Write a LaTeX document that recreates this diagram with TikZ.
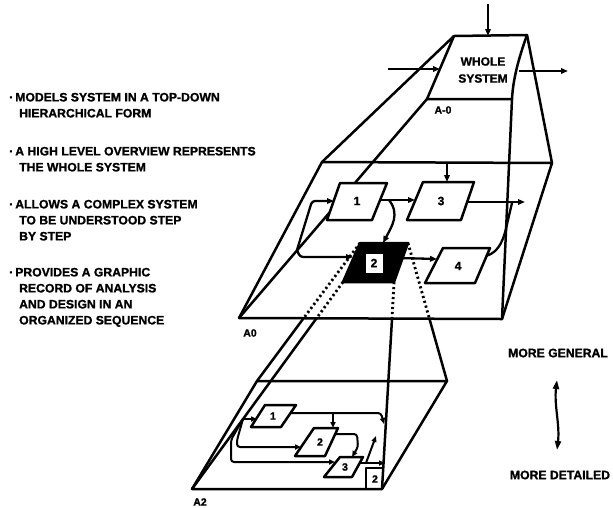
\documentclass[tikz,border=0pt]{standalone}
\usepackage{fontspec}
\setmainfont{Liberation Sans}[BoldFeatures={FakeBold=1.2}]
\usetikzlibrary{arrows.meta}
\begin{document}
\begin{tikzpicture}[x=1pt,y=-1pt,
  frame/.style={line width=2.5pt, line join=round, line cap=round},
  lnk/.style={line width=2.3pt, rounded corners=3pt, -{Triangle[length=7pt,width=5.5pt]}},
  slnk/.style={line width=2pt, rounded corners=3pt, -{Triangle[length=6pt,width=5pt]}},
  plain/.style={line width=2.3pt, rounded corners=3pt},
  dots/.style={line width=2.8pt, dash pattern=on 2.2pt off 2.8pt},
  lbl/.style={font=\bfseries\fontsize{12.2}{16}\selectfont, inner sep=0pt},
  txt/.style={lbl, anchor=base west},
  num/.style={font=\bfseries\fontsize{12}{12}\selectfont, inner sep=0pt},
  small/.style={font=\bfseries\fontsize{10.5}{10.5}\selectfont, inner sep=0pt}]
\useasboundingbox (0,0) rectangle (613,507);

% ---------- left text ----------
\node[txt] (l1) at (9,101.4) {·\,MODELS SYSTEM IN A TOP-DOWN};
\node[txt] (l2) at (19,117.4) {HIERARCHICAL FORM};
\node[txt] (l3) at (9,155.4) {·\,A HIGH LEVEL OVERVIEW REPRESENTS};
\node[txt] (l4) at (19,171.4) {THE WHOLE SYSTEM};
\node[txt] (l5) at (9,208.4) {·\,ALLOWS A COMPLEX SYSTEM};
\node[txt] (l6) at (19,224.4) {TO BE UNDERSTOOD STEP};
\node[txt] (l7) at (19,240.4) {BY STEP};
\node[txt] (l8) at (9,276.4) {·\,PROVIDES A GRAPHIC};
\node[txt] (l9) at (19,292.4) {RECORD OF ANALYSIS};
\node[txt] (l10) at (19,308.4) {AND DESIGN IN AN};
\node[txt] (l11) at (19,324.4) {ORGANIZED SEQUENCE};

% ---------- right legend ----------
\node[lbl] (gen) at (558,353) {MORE GENERAL};
\node[lbl] (det) at (560,475) {MORE DETAILED};
\coordinate (dA) at (557,380);
\coordinate (dB) at (557,450);
\draw[line width=2.2pt, {Triangle[length=9pt,width=6pt]}-{Triangle[length=9pt,width=6pt]}] (dA) .. controls (554,405) and (560,425) .. (dB);

% ---------- A-0 ----------
\coordinate (T1) at (454,36);
\coordinate (T2) at (527,35);
\coordinate (T3) at (512,99);
\coordinate (T4) at (427,99);
% ---------- A0 ----------
\coordinate (P1) at (322,162);
\coordinate (P2) at (552,163);
\coordinate (P3) at (502,319);
\coordinate (P4) at (239,318);
% frustum A-0 -> A0
\draw[frame] (T1) -- (P1);
\draw[frame] (T4) -- (P4);
\draw[frame] (T2) -- (P2);
\draw[frame] (T3) -- (P3);
\draw[frame] (T1) -- (T2) .. controls (518,60) and (513,80) .. (T3) -- (T4) -- cycle;
\draw[frame] (P1) -- (P2) -- (P3) -- (P4) -- cycle;
\node[lbl, align=center, font=\bfseries\fontsize{12}{17}\selectfont] (whole) at (483,70) {WHOLE\\SYSTEM};
\node[small] (la0) at (443,110) {A-0};
\node[small] (lA0) at (250,333) {A0};

\coordinate (cin) at (488,4);
\coordinate (cinE) at (488,36);
\draw[lnk] (cin) -- (cinE);
\coordinate (iin) at (388,69);
\coordinate (iinE) at (440,69);
\draw[lnk] (iin) -- (iinE);
\coordinate (oout) at (519,71);
\coordinate (ooutE) at (568,71);
\draw[lnk] (oout) -- (ooutE);

% boxes in A0
\coordinate (a1) at (340,183); \coordinate (a2) at (387,183); \coordinate (a3) at (372,220); \coordinate (a4) at (327,220);
\coordinate (c1) at (423,182); \coordinate (c2) at (474,182); \coordinate (c3) at (461,220); \coordinate (c4) at (407,220);
\coordinate (d1) at (443,248); \coordinate (d2) at (490,248); \coordinate (d3) at (475,283); \coordinate (d4) at (425,283);
\coordinate (b21) at (360,243); \coordinate (b22) at (408,243); \coordinate (b23) at (394,282); \coordinate (b24) at (343,282);
\draw[frame, fill=white] (a1) -- (a2) -- (a3) -- (a4) -- cycle;
\draw[frame, fill=white] (c1) -- (c2) -- (c3) -- (c4) -- cycle;
\draw[frame, fill=white] (d1) -- (d2) -- (d3) -- (d4) -- cycle;
\draw[frame, fill=black] (b21) -- (b22) -- (b23) -- (b24) -- cycle;
\node[num] (n1) at (357,201) {1};
\node[num] (n3) at (441,201) {3};
\node[num] (n4) at (458,266) {4};
\node[num, fill=white, minimum width=17pt, minimum height=19pt] (n2) at (374,263) {2};

% arrows in A0
\coordinate (ctl) at (447,163); \coordinate (ctlE) at (447,182);
\draw[lnk] (ctl) -- (ctlE);
\coordinate (J) at (297,250);
\draw[lnk] (J) -- (312,201) -- (334,201);
\draw[lnk] (J) -- (300,257) -- (353,257);
\coordinate (o1) at (380,200); \coordinate (i3) at (415,200);
\draw[lnk] (o1) -- (i3);
\coordinate (br) at (389,200); \coordinate (i2t) at (383,243);
\draw[lnk] (br) .. controls (400,214) and (392,226) .. (i2t);
\coordinate (o2) at (400,258); \coordinate (i4) at (437,259);
\draw[lnk] (o2) -- (i4);
\coordinate (o3) at (466,202); \coordinate (o3E) at (525,202);
\draw[lnk] (o3) -- (o3E);
\coordinate (o4) at (486,256);
\draw[plain] (o4) .. controls (500,252) and (504,238) .. (508,220) -- (512,203);

% ---------- A2 ----------
\coordinate (Q1) at (257,381);
\coordinate (Q2) at (447,381);
\coordinate (Q3) at (382,489);
\coordinate (Q4) at (192,489);
\coordinate (D1) at (303,319);
\coordinate (D2) at (429.5,319);
\coordinate (D3) at (392,319);
\coordinate (D4) at (316,319);
\draw[dots] (b21) -- (D1);
\draw[dots] (b22) -- (D2);
\draw[dots] (b23) -- (D3);
\draw[dots] (b24) -- (D4);
\draw[frame] (D1) -- (Q1);
\draw[frame] (D2) -- (Q2);
\draw[frame] (D3) -- (Q3);
\draw[frame] (D4) -- (Q4);
\draw[frame] (Q1) -- (Q2) -- (Q3) -- (Q4) -- cycle;
\node[small] (lA2) at (200,502) {A2};

\coordinate (e1) at (265,405); \coordinate (e2) at (296,405); \coordinate (e3) at (281,427); \coordinate (e4) at (251,427);
\coordinate (f1) at (314,428); \coordinate (f2) at (338,428); \coordinate (f3) at (325,456); \coordinate (f4) at (295,456);
\coordinate (g1) at (340,457); \coordinate (g2) at (363,457); \coordinate (g3) at (352,477); \coordinate (g4) at (324,477);
\draw[frame, fill=white] (e1) -- (e2) -- (e3) -- (e4) -- cycle;
\draw[frame, fill=white] (f1) -- (f2) -- (f3) -- (f4) -- cycle;
\draw[frame, fill=white] (g1) -- (g2) -- (g3) -- (g4) -- cycle;
\node[small] (m1) at (273,416) {1};
\node[small] (m2) at (320,442) {2};
\node[small] (m3) at (345,467) {3};
\coordinate (k1) at (366,489); \coordinate (k2) at (366,468); \coordinate (k3) at (383,468);
\draw[frame] (k1) -- (k2) -- (k3);
\node[small] (m2b) at (375,479) {2};

\coordinate (J2) at (243,419);
\draw[slnk] (J2) -- (257,419);
\draw[slnk] (J2) -- (237,440) -- (237,447) -- (301,447);
\draw[slnk] (J2) -- (231,440) -- (231,462) -- (335,462);
\coordinate (p1) at (291,413);
\draw[slnk] (p1) -- (381,413) -- (384,424);
\coordinate (p1b) at (333,413); \coordinate (f1t) at (333,428);
\draw[slnk] (p1b) -- (f1t);
\coordinate (p2) at (335,434);
\draw[slnk] (p2) -- (357,434) -- (358,447) -- (352,457);
\coordinate (p3) at (360,463); \coordinate (p3E) at (385,463);
\draw[slnk] (p3) -- (p3E);
\coordinate (p3b) at (366,463); \coordinate (p3bE) at (376,436);
\draw[slnk] (p3b) -- (p3bE);
\end{tikzpicture}
\end{document}
